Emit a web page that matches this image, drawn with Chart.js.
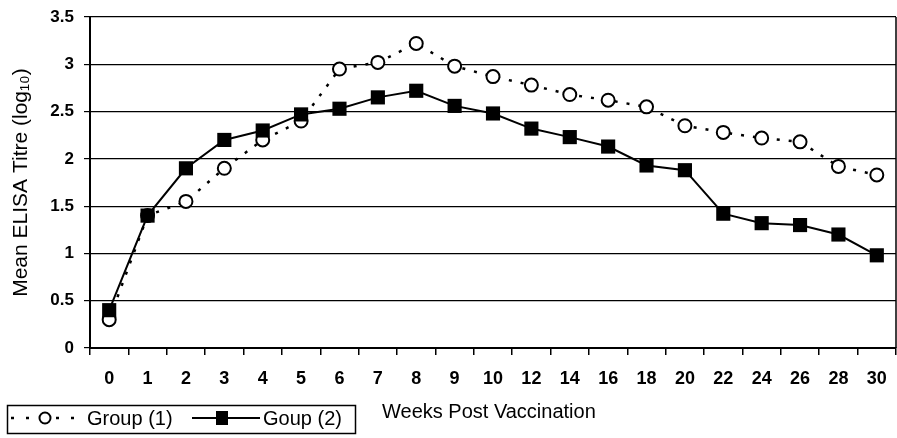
<!DOCTYPE html>
<html lang="en">
<head>
    <meta charset="UTF-8">
    <title>Mean ELISA Titre</title>
    <script src="https://cdn.jsdelivr.net/npm/chart.js@4.4.1/dist/chart.umd.min.js"></script>
    <style>
        body {
            margin: 0;
            background-color: #ffffff;
        }
        .chart-container {
            width: 897px;
            height: 438px;
        }
    </style>
</head>
<body>
    <div class="chart-container">
        <canvas id="elisaChart"></canvas>
    </div>

    <script>
        // Weeks post vaccination
        const weeks = ['0', '1', '2', '3', '4', '5', '6', '7', '8', '9', '10', '12', '14', '16', '18', '20', '22', '24', '26', '28', '30'];

        // Mean ELISA titre (log10) per group
        const group1 = [0.3, 1.4, 1.55, 1.9, 2.2, 2.4, 2.95, 3.02, 3.22, 2.98, 2.87, 2.78, 2.68, 2.62, 2.55, 2.35, 2.28, 2.22, 2.18, 1.92, 1.83];
        const group2 = [0.4, 1.4, 1.9, 2.2, 2.3, 2.47, 2.53, 2.65, 2.72, 2.56, 2.48, 2.32, 2.23, 2.13, 1.93, 1.88, 1.42, 1.32, 1.3, 1.2, 0.98];

        const yTicks = [0, 0.5, 1, 1.5, 2, 2.5, 3, 3.5];

        const fontFamily = '"Liberation Sans", Arial, sans-serif';

        // legend box + x title sit on the same row, so draw them by hand
        const bottomRow = {
            id: 'bottomRow',
            afterDraw(chart) {
                const ctx = chart.ctx;
                ctx.save();
                ctx.strokeStyle = '#000';
                ctx.fillStyle = '#000';

                // legend frame
                ctx.lineWidth = 1.5;
                ctx.strokeRect(7.5, 405.5, 348, 28);

                const midY = 418;

                // group 1 sample: dotted line with open circle
                ctx.lineWidth = 2.5;
                ctx.setLineDash([3, 12]);
                ctx.beginPath();
                ctx.moveTo(11, midY);
                ctx.lineTo(80, midY);
                ctx.stroke();
                ctx.setLineDash([]);
                ctx.beginPath();
                ctx.arc(45, midY, 5.5, 0, Math.PI * 2);
                ctx.fillStyle = '#fff';
                ctx.fill();
                ctx.lineWidth = 2;
                ctx.stroke();

                // group 2 sample: solid line with filled square
                ctx.fillStyle = '#000';
                ctx.beginPath();
                ctx.moveTo(192, midY);
                ctx.lineTo(260, midY);
                ctx.stroke();
                ctx.fillRect(216, midY - 7, 12, 14);

                ctx.font = '20px ' + fontFamily;
                ctx.textBaseline = 'middle';
                ctx.textAlign = 'left';
                ctx.fillText('Group (1)', 87, midY + 1);
                ctx.fillText('Goup (2)', 263, midY + 1);

                // x axis title
                ctx.fillText('Weeks Post Vaccination', 382, 412);
                ctx.restore();
            }
        };

        // right-hand border of the plot area
        const plotBorder = {
            id: 'plotBorder',
            afterDatasetsDraw(chart) {
                const { ctx, chartArea } = chart;
                ctx.save();
                ctx.strokeStyle = '#000';
                ctx.lineWidth = 1.5;
                ctx.beginPath();
                ctx.moveTo(chartArea.right, chartArea.top);
                ctx.lineTo(chartArea.right, chartArea.bottom);
                ctx.stroke();
                ctx.restore();
            }
        };

        const ctx = document.getElementById('elisaChart').getContext('2d');
        new Chart(ctx, {
            type: 'line',
            data: {
                labels: weeks,
                datasets: [{
                    label: 'Group (1)',
                    data: group1,
                    borderColor: '#000',
                    borderWidth: 2.5,
                    borderDash: [3, 9],
                    pointStyle: 'circle',
                    pointRadius: 6.5,
                    pointBorderWidth: 2,
                    pointBackgroundColor: '#fff',
                    pointBorderColor: '#000',
                    tension: 0,
                    order: 2
                }, {
                    label: 'Goup (2)',
                    data: group2,
                    borderColor: '#000',
                    borderWidth: 2,
                    pointStyle: 'rect',
                    pointRadius: 10,
                    pointBorderWidth: 0,
                    pointBackgroundColor: '#000',
                    pointBorderColor: '#000',
                    tension: 0,
                    order: 1
                }]
            },
            options: {
                responsive: true,
                maintainAspectRatio: false,
                animation: false,
                layout: {
                    autoPadding: false,
                    padding: { top: 17, right: 1, bottom: 45, left: 0 }
                },
                plugins: {
                    legend: { display: false },
                    tooltip: { enabled: false }
                },
                scales: {
                    x: {
                        offset: true,
                        afterFit: s => {
                            s.height = 45;
                            s.paddingLeft = 0;
                            s.paddingRight = 0;
                        },
                        grid: {
                            offset: true,
                            drawOnChartArea: false,
                            color: '#000',
                            lineWidth: 1.5,
                            tickLength: 7
                        },
                        border: { color: '#000', width: 2 },
                        ticks: {
                            color: '#000',
                            padding: 13,
                            maxRotation: 0,
                            autoSkip: false,
                            font: { family: fontFamily, size: 18, weight: 'bold' }
                        }
                    },
                    y: {
                        min: 0,
                        max: 3.5,
                        afterFit: s => {
                            s.width = 90;
                            s.paddingTop = 0;
                            s.paddingBottom = 0;
                        },
                        afterBuildTicks: s => { s.ticks = yTicks.map(v => ({ value: v })); },
                        grid: {
                            color: '#000',
                            lineWidth: 1.2,
                            tickLength: 6
                        },
                        border: { color: '#000', width: 2 },
                        ticks: {
                            color: '#000',
                            padding: 10,
                            callback: v => String(v),
                            font: { family: fontFamily, size: 17, weight: 'bold' }
                        },
                        title: {
                            display: true,
                            text: 'Mean ELISA Titre (log₁₀)',
                            color: '#000',
                            padding: { top: 9, bottom: 0 },
                            font: { family: fontFamily, size: 21 }
                        }
                    }
                }
            },
            plugins: [bottomRow, plotBorder]
        });
    </script>
</body>
</html>
